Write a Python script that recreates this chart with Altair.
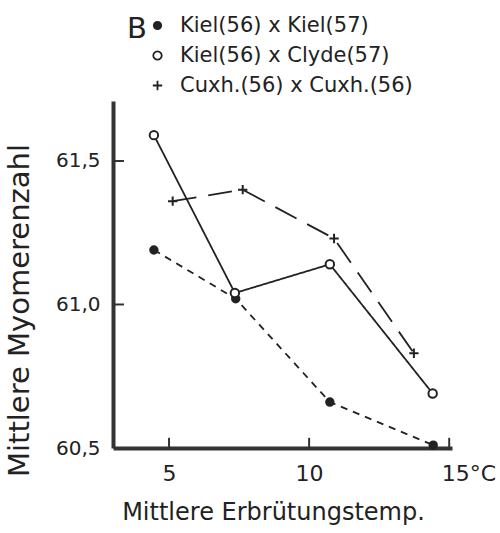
import altair as alt
import pandas as pd

# ---- data ----
series = ["Kiel(56) x Kiel(57)", "Kiel(56) x Clyde(57)", "Cuxh.(56) x Cuxh.(56)"]

kk_temp = [4.46, 7.38, 10.74, 14.43]
kk_myo = [61.19, 61.02, 60.66, 60.51]

kc_temp = [4.46, 7.35, 10.74, 14.41]
kc_myo = [61.59, 61.04, 61.14, 60.69]

cc_temp = [5.13, 7.63, 10.89, 13.74]
cc_myo = [61.36, 61.40, 61.23, 60.83]

x_ticks = [5, 10, 15]
y_ticks = [60.5, 61.0, 61.5]
y_inner_ticks = [61.0, 61.5]
x_min = 3

rows = []
for name, xs, ys in [(series[0], kk_temp, kk_myo), (series[1], kc_temp, kc_myo), (series[2], cc_temp, cc_myo)]:
    for t, m in zip(xs, ys):
        rows.append({"series": name, "line": name, "temp": t, "myo": m})
# inward axis tick marks, anchored on the axis lines
for v in x_ticks:
    rows.append({"series": "xtick", "line": "xtick", "temp": float(v), "myo": y_ticks[0]})
for v in y_inner_ticks:
    rows.append({"series": "ytick", "line": "ytick", "temp": float(x_min), "myo": v})
df = pd.DataFrame(rows)

FONT = "DejaVu Sans"
INK = "#222222"
AXIS_INK = "#333333"

xscale = alt.Scale(domain=[x_min, 15.1], nice=False, zero=False)
yscale = alt.Scale(domain=[60.5, 61.709], nice=False, zero=False)

x_main_axis = alt.Axis(
    orient="bottom", values=x_ticks, ticks=False, grid=False,
    domain=True, domainWidth=4, domainColor=AXIS_INK,
    labelFontSize=22, labelPadding=15, labelColor=INK, labelFont=FONT, labelFlush=False,
    labelExpr="datum.value == 15 ? '15°C' : datum.label",
    labelAlign={"condition": {"test": "datum.value == 15", "value": "left"}, "value": "center"},
    labelOffset={"condition": {"test": "datum.value == 15", "value": -8}, "value": 0},
    title="Mittlere Erbrütungstemp.", titleFontSize=24, titleFontWeight="normal",
    titleFont=FONT, titleColor=INK, titleX=160, titleY=64, titleBaseline="middle",
)
y_main_axis = alt.Axis(
    orient="left", values=y_ticks, ticks=False, grid=False,
    domain=True, domainWidth=4, domainColor=AXIS_INK,
    labelFontSize=20, labelPadding=13, labelColor=INK, labelFont=FONT,
    labelExpr="replace(format(datum.value, '.1f'), '.', ',')",
    title="Mittlere Myomerenzahl", titleFontSize=29, titleFontWeight="normal",
    titleFont=FONT, titleColor=INK, titleAngle=-90, titleX=-94, titleY=209,
    titleBaseline="middle", titleAlign="center",
)

legend = alt.Legend(
    orient="none", legendX=14, legendY=-86, title="B", values=series,
    titleOrient="left", titleAnchor="start", titleFontSize=29, titleFontWeight="normal",
    titleFont=FONT, titleColor=INK, titleBaseline="top", titlePadding=0,
    labelFontSize=21, labelFont=FONT, labelColor=INK, labelOffset=12, labelLimit=0,
    rowPadding=8, symbolStrokeWidth=1.8, symbolStrokeColor=INK,
)

keys = series + ["xtick", "ytick"]

# dash styles follow the alphabetical order of the 'line' field: Cuxh., Kiel x Clyde, Kiel x Kiel
lines = alt.Chart(df).transform_filter(
    alt.FieldOneOfPredicate(field="series", oneOf=series)
).mark_line(color=INK, strokeWidth=1.8).encode(
    x=alt.X("temp:Q", scale=xscale, axis=x_main_axis),
    y=alt.Y("myo:Q", scale=yscale, axis=y_main_axis),
    strokeDash=alt.StrokeDash("line:N", scale=alt.Scale(range=[[24, 12], [1, 0], [7, 6]]), legend=None),
    detail="series:N",
    order="temp:Q",
)

points = alt.Chart(df).mark_point(opacity=1, strokeWidth=2).encode(
    x=alt.X("temp:Q", scale=xscale),
    y=alt.Y("myo:Q", scale=yscale),
    shape=alt.Shape("series:N", scale=alt.Scale(domain=keys, range=["circle", "circle", "M-1,0H1M0,-1V1", "M0,0V-2", "M0,0H2"]), legend=legend),
    fill=alt.Fill("series:N", scale=alt.Scale(domain=keys, range=[INK, "white", INK, "transparent", "transparent"]), legend=legend),
    stroke=alt.Stroke("series:N", scale=alt.Scale(domain=keys, range=[INK, INK, INK, AXIS_INK, AXIS_INK]), legend=legend),
    size=alt.Size("series:N", scale=alt.Scale(domain=keys, range=[55, 120, 80, 144, 100]), legend=legend),
)

chart = alt.layer(lines, points).properties(
    width=339, height=347,
    autosize=alt.AutoSizeParams(type="none"),
    padding={"left": 113, "top": 101, "right": 48, "bottom": 85},
    background="white",
).configure_view(stroke="transparent", strokeWidth=0)

chart.save("out.html", embed_options={"renderer": "svg", "actions": False})
